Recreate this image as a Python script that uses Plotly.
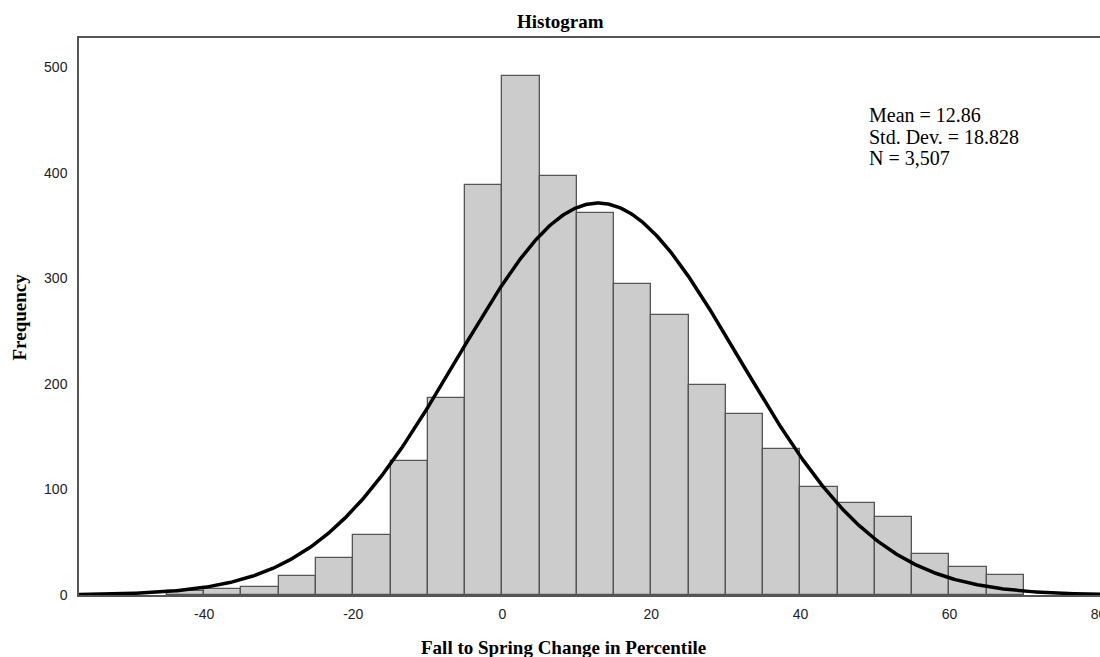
import numpy as np
import plotly.graph_objects as go

# Histogram bins (lower edges, width 5) and frequencies
bin_left = [-45, -40, -35, -30, -25, -20, -15, -10, -5, 0, 5, 10, 15, 20, 25, 30,
            35, 40, 45, 50, 55, 60, 65]
freq = [4, 6, 8, 18, 35, 57, 127, 187, 389, 492, 397, 362, 295, 265, 199, 172,
        138, 102, 87, 74, 39, 27, 19]
bin_width = 5

# Summary statistics shown on the chart
mean = 12.86
std_dev = 18.828
n_obs = 3507

x_ticks = [-40, -20, 0, 20, 40, 60, 80]
y_ticks = [0, 100, 200, 300, 400, 500]

centers = [b + bin_width / 2 for b in bin_left]

# Fitted normal curve from displayed mean / sd / N
xc = np.linspace(-56.8, 80.2, 700)
yc = n_obs * bin_width / (std_dev * np.sqrt(2 * np.pi)) * np.exp(-0.5 * ((xc - mean) / std_dev) ** 2)

fig = go.Figure()
fig.add_trace(go.Bar(
    x=centers, y=freq, width=bin_width,
    marker=dict(color="#cccccc", line=dict(color="#555555", width=1.3)),
    showlegend=False, hoverinfo="x+y",
))
fig.add_trace(go.Scatter(
    x=xc, y=yc, mode="lines",
    line=dict(color="black", width=3.5),
    showlegend=False, hoverinfo="skip",
))

serif = "Liberation Serif, Times New Roman, serif"
sans = "Liberation Sans, Arial, sans-serif"

fig.update_layout(
    width=1100, height=657,
    margin=dict(l=79, r=0, t=38, b=62, autoexpand=False),
    plot_bgcolor="white", paper_bgcolor="white",
    bargap=0,
    xaxis=dict(
        range=[-56.8, 80.2], tickvals=x_ticks, ticktext=[str(v) for v in x_ticks],
        showgrid=False, zeroline=False, ticks="",
        showline=True, linecolor="#555555", linewidth=1.5, mirror=True,
        tickfont=dict(family=sans, size=14, color="#222222"),
        ticklabelstandoff=5, ticklabeloverflow="allow", automargin=False,
    ),
    yaxis=dict(
        range=[0, 528], tickvals=y_ticks, ticktext=[str(v) for v in y_ticks],
        showgrid=False, zeroline=False, ticks="",
        showline=True, linecolor="#555555", linewidth=1.5,
        tickfont=dict(family=sans, size=14, color="#222222"),
        ticklabelstandoff=7, automargin=False,
    ),
    annotations=[
        dict(text="<b>Histogram</b>", xref="paper", yref="paper", x=0.472, y=1.0,
             yshift=17, xanchor="center", yanchor="middle", showarrow=False,
             font=dict(family=serif, size=19, color="black")),
        dict(text="<b>Fall to Spring Change in Percentile</b>", xref="paper", yref="paper",
             x=0.475, y=-0.0934, xanchor="center", yanchor="middle", showarrow=False,
             font=dict(family=serif, size=19, color="black")),
        dict(text="<b>Frequency</b>", xref="paper", yref="paper",
             x=-0.0578, y=0.5, xanchor="center", yanchor="middle", textangle=-90,
             showarrow=False, font=dict(family=serif, size=19, color="black")),
        dict(text=f"Mean = {mean}", xref="paper", yref="paper", x=0.7715, y=0.862,
             xanchor="left", yanchor="middle", showarrow=False,
             font=dict(family=serif, size=20, color="black")),
        dict(text=f"Std. Dev. = {std_dev}", xref="paper", yref="paper", x=0.7715, y=0.822,
             xanchor="left", yanchor="middle", showarrow=False,
             font=dict(family=serif, size=20, color="black")),
        dict(text=f"N = {n_obs:,}", xref="paper", yref="paper", x=0.7715, y=0.7846,
             xanchor="left", yanchor="middle", showarrow=False,
             font=dict(family=serif, size=20, color="black")),
    ],
)

# remove the default 8px page margin so the 1100x657 figure fills the window exactly
fig.write_html("out.html",
               config={"displayModeBar": False},
               post_script="document.body.style.margin='0';document.body.style.overflow='hidden';")
